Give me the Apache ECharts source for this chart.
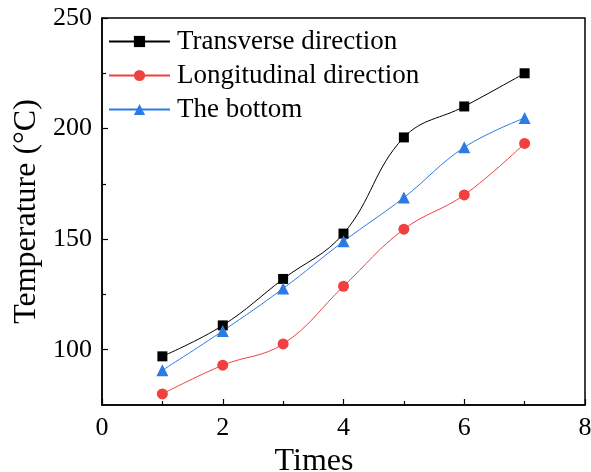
<!DOCTYPE html>
<html>
<head>
<meta charset="utf-8">
<script src="https://cdn.jsdelivr.net/npm/echarts@6/dist/echarts.min.js"></script>
<style>
  html, body { margin: 0; padding: 0; background: #fff; }
  #main { width: 591px; height: 472px; }
</style>
</head>
<body>
<div id="main"></div>
<script>
// data
var times = [1, 2, 3, 4, 5, 6, 7]
var transverse = [97, 111, 132, 152.5, 196, 210, 225]
var longitudinal = [80, 93, 102.6, 128.7, 154.5, 170, 193.3]
var bottom = [90.7, 108.5, 127.7, 149, 168.8, 191.5, 204.8]
var yMajor = [100, 150, 200, 250]
var yMinor = [125, 175, 225]

var font = 'Liberation Serif, Times New Roman, serif'

function pairs (ys) {
  return times.map(function (t, i) { return [t, ys[i]] })
}

var myChart = echarts.init(document.getElementById('main'))

function mkSeries (name, ys, color, symbol, size) {
  return {
    name: name,
    type: 'line',
    data: pairs(ys),
    smooth: 0.4,
    symbol: symbol,
    symbolSize: size,
    itemStyle: { color: color },
    lineStyle: { color: color, width: 1 }
  }
}

myChart.setOption({
  animation: false,
  grid: {
    left: 102, right: 6, top: 18, bottom: 67,
    outerBoundsMode: 'none',
    show: true, borderColor: '#000', borderWidth: 1.5
  },
  legend: {
    left: 108, top: 28, padding: 0,
    orient: 'vertical',
    itemWidth: 61, itemHeight: 14, itemGap: 7,
    textStyle: { fontFamily: font, fontSize: 27, color: '#000', lineHeight: 26, padding: [0, 0, 0, 2] },
    data: ['Transverse direction', 'Longitudinal direction', 'The bottom']
  },
  xAxis: {
    type: 'value', min: 0, max: 8, interval: 2,
    name: 'Times', nameLocation: 'middle', nameGap: 28,
    nameTextStyle: { fontFamily: font, fontSize: 32, color: '#000', padding: [0, 59, 0, 0] },
    axisLine: { lineStyle: { color: '#000', width: 1.5 } },
    axisTick: { inside: true, length: 6, lineStyle: { color: '#000', width: 1.2 } },
    minorTick: { show: true, splitNumber: 2, length: 4, lineStyle: { color: '#000', width: 1.2 } },
    axisLabel: { fontFamily: font, fontSize: 26, color: '#000', margin: 10 },
    splitLine: { show: false }
  },
  yAxis: [{
    type: 'value', min: 75, max: 250,
    name: 'Temperature (°C)', nameLocation: 'middle', nameGap: 53,
    nameTextStyle: { fontFamily: font, fontSize: 32, color: '#000' },
    axisLine: { lineStyle: { color: '#000', width: 1.5 } },
    axisTick: { inside: true, length: 6, customValues: yMajor, lineStyle: { color: '#000', width: 1.2 } },
    axisLabel: { fontFamily: font, fontSize: 26, color: '#000', margin: 10, customValues: yMajor },
    splitLine: { show: false }
  }, {
    // minor ticks only
    type: 'value', min: 75, max: 250, position: 'left',
    axisLine: { show: false },
    axisTick: { inside: true, length: 4, customValues: yMinor, lineStyle: { color: '#000', width: 1.2 } },
    axisLabel: { show: false },
    splitLine: { show: false }
  }],
  series: [
    mkSeries('Transverse direction', transverse, '#000000', 'rect', 10),
    mkSeries('Longitudinal direction', longitudinal, '#F04040', 'circle', 11),
    mkSeries('The bottom', bottom, '#2B7BE4', 'triangle', 12)
  ]
})
</script>
</body>
</html>
